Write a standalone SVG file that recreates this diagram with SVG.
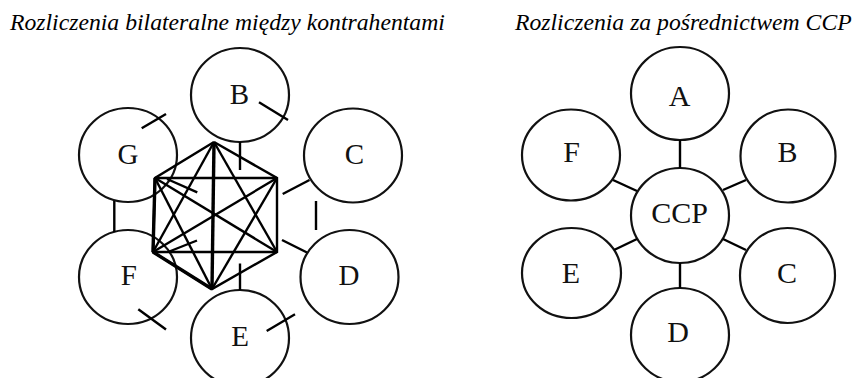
<svg xmlns="http://www.w3.org/2000/svg" width="856" height="378" viewBox="0 0 856 378">
<style>
.title{font-family:"Liberation Serif","Times New Roman",serif;font-style:italic;font-size:23.7px;fill:#000}
.lbl{font-family:"Liberation Serif","Times New Roman",serif;font-size:29px;fill:#111;text-anchor:middle}
.lbl2{font-family:"Liberation Serif","Times New Roman",serif;font-size:30px;fill:#111;text-anchor:middle}
.node{fill:#fff;stroke:#111;stroke-width:2.2}
.ln{stroke:#000;stroke-width:2.4;fill:none;stroke-linecap:butt}
.thick{stroke:#000;stroke-width:3.4;fill:none}
</style>
<rect width="856" height="378" fill="#fff"/>
<text class="title" x="10" y="30">Rozliczenia bilateralne między kontrahentami</text>
<text class="title" x="515" y="30">Rozliczenia za pośrednictwem CCP</text>

<!-- Left diagram nodes -->
<g id="L-B"><ellipse class="node" cx="240" cy="95" rx="49" ry="47"/><text class="lbl" x="239.5" y="104">B</text></g>
<g id="L-G"><ellipse class="node" cx="128" cy="155" rx="49" ry="47"/><text class="lbl" x="128" y="164">G</text></g>
<g id="L-C"><ellipse class="node" cx="353" cy="155.5" rx="49" ry="47"/><text class="lbl" x="354.5" y="164">C</text></g>
<g id="L-F"><ellipse class="node" cx="128" cy="277" rx="49" ry="47"/><text class="lbl" x="128.7" y="285">F</text></g>
<g id="L-D"><ellipse class="node" cx="349.5" cy="277" rx="49" ry="47"/><text class="lbl" x="349" y="285">D</text></g>
<g id="L-E"><ellipse class="node" cx="240" cy="338" rx="49" ry="48"/><text class="lbl" x="240" y="346">E</text></g>

<!-- Left connectors -->
<g id="L-connectors">
<line class="ln" x1="259" y1="102.3" x2="288" y2="120"/>
<line class="ln" x1="141.7" y1="128.3" x2="166" y2="114"/>
<line class="ln" x1="138.3" y1="309.3" x2="166" y2="329.5"/>
<line class="ln" x1="266.7" y1="331" x2="295" y2="314.3"/>
<line class="ln" x1="240" y1="142" x2="240" y2="170"/>
<line class="ln" x1="240" y1="263.5" x2="240" y2="290"/>
<line class="ln" x1="282.7" y1="194" x2="309.5" y2="180"/>
<line class="ln" x1="282" y1="240" x2="307" y2="252.5"/>
<line class="ln" x1="316" y1="201" x2="316" y2="230"/>
<line class="ln" x1="114.3" y1="201" x2="114.3" y2="232"/>
<line class="ln" x1="167" y1="179" x2="197.3" y2="192.3"/>
<line class="ln" x1="168" y1="252" x2="197" y2="240.5"/>
<!-- K6 hexagon -->
<polyline class="ln" points="214,142 155,178 153,252 212,289 277,252 277,178 214,142"/>
<line class="ln" x1="155" y1="178" x2="277" y2="178"/>
<line class="ln" x1="153" y1="252" x2="277" y2="252"/>
<line class="ln" x1="155" y1="178" x2="277" y2="252"/>
<line class="ln" x1="277" y1="178" x2="153" y2="252"/>
<line class="ln" x1="214" y1="142" x2="153" y2="252"/>
<line class="ln" x1="214" y1="142" x2="277" y2="252"/>
<line class="ln" x1="212" y1="289" x2="155" y2="178"/>
<line class="ln" x1="212" y1="289" x2="277" y2="178"/>
<line class="thick" x1="214" y1="142" x2="212" y2="289"/>
<line class="thick" x1="155" y1="178" x2="153" y2="252"/>
<line class="thick" x1="153" y1="252" x2="212" y2="289"/>
</g>

<!-- Right diagram nodes -->
<g id="R-A"><ellipse class="node" cx="680" cy="93.5" rx="49" ry="46.5"/><text class="lbl2" x="679.5" y="105.5">A</text></g>
<g id="R-F"><ellipse class="node" cx="571" cy="155" rx="49" ry="45.5"/><text class="lbl2" x="571.5" y="161.7">F</text></g>
<g id="R-B"><ellipse class="node" cx="788" cy="156" rx="47.5" ry="46.5"/><text class="lbl2" x="787.5" y="161.7">B</text></g>
<g id="R-CCP"><ellipse class="node" cx="680" cy="215.5" rx="49" ry="47.5"/><text class="lbl2" x="679.5" y="222.7">CCP</text></g>
<g id="R-E"><ellipse class="node" cx="571.5" cy="273" rx="49.5" ry="45"/><text class="lbl2" x="571" y="283.3">E</text></g>
<g id="R-C"><ellipse class="node" cx="787.5" cy="275.5" rx="47.5" ry="47.5"/><text class="lbl2" x="787" y="283.3">C</text></g>
<g id="R-D"><ellipse class="node" cx="680" cy="335" rx="49" ry="47"/><text class="lbl2" x="678" y="341.7">D</text></g>

<!-- Right connectors -->
<g id="R-connectors">
<line class="ln" x1="680" y1="140" x2="680" y2="168"/>
<line class="ln" x1="680" y1="263" x2="680" y2="288"/>
<line class="ln" x1="613" y1="180" x2="637" y2="191"/>
<line class="ln" x1="723" y1="190" x2="746" y2="180"/>
<line class="ln" x1="614" y1="250" x2="637" y2="239"/>
<line class="ln" x1="723" y1="239" x2="746" y2="250"/>
</g>
</svg>
